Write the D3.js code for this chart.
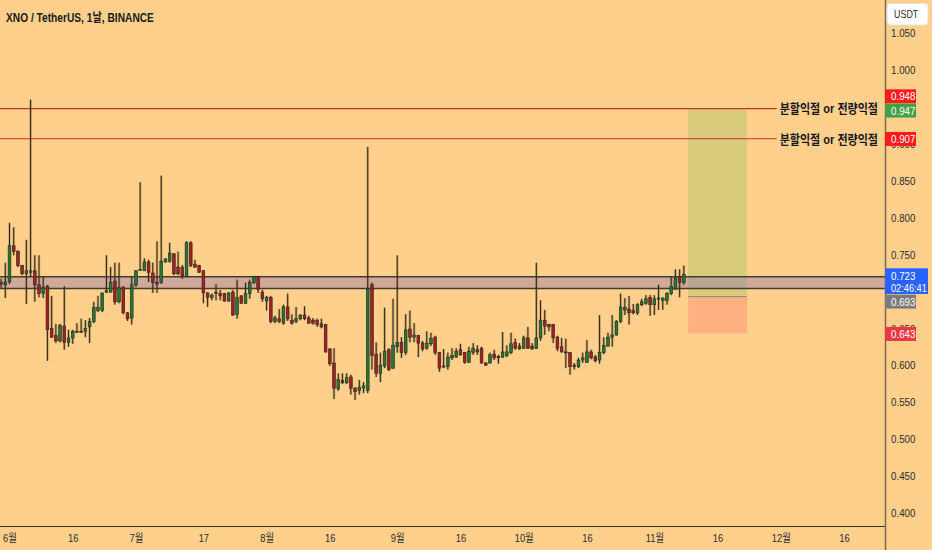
<!DOCTYPE html>
<html>
<head>
<meta charset="utf-8">
<title>XNO / TetherUS, 1날, BINANCE</title>
<style>
  html, body { margin: 0; padding: 0; background: #ffd08b; overflow: hidden; }
  svg { display: block; }
  text { font-family: "Liberation Sans", "Noto Sans CJK KR", sans-serif; }
</style>
</head>
<body>
<script src="https://cdn.jsdelivr.net/npm/d3@7"></script>
<script>

// daily candles, first one is 2022-05-30, one per day
var firstDay = "2022-05-30";

var opens = [
  .712,.709,.713,.762,.754,.735,.724,.726,.728,.709,
  .697,.707,.650,.640,.633,.653,.631,.637,.645,.646,
  .646,.652,.659,.674,.674,.699,.699,.714,.686,.706,
  .671,.664,.709,.729,.728,.740,.725,.712,.712,.740,
  .741,.751,.733,.733,.720,.766,.737,.735,.728,.698,
  .692,.699,.697,.697,.687,.699,.669,.694,.684,.697,
  .712,.720,.699,.687,.692,.659,.663,.657,.679,.661,
  .659,.663,.668,.664,.661,.661,.656,.655,.622,.603,
  .568,.579,.576,.584,.569,.566,.569,.566,.709,.615,
  .589,.599,.621,.596,.625,.631,.617,.649,.638,.640,
  .630,.623,.629,.638,.617,.598,.598,.610,.611,.621,
  .617,.604,.617,.621,.623,.603,.603,.615,.612,.611,
  .613,.617,.631,.626,.623,.637,.626,.623,.637,.661,
  .655,.655,.638,.625,.618,.617,.600,.598,.607,.604,
  .618,.611,.607,.617,.626,.638,.641,.659,.675,.676,
  .674,.671,.682,.684,.692,.682,.690,.688,.688,.697,
  .703,.720,.712
];
var highs = [
  .717,.739,.793,.787,.756,.736,.770,.960,.749,.749,
  .721,.709,.694,.656,.656,.707,.648,.648,.657,.663,
  .661,.664,.686,.694,.698,.749,.733,.739,.739,.707,
  .672,.720,.729,.848,.745,.743,.739,.768,.857,.745,
  .766,.752,.754,.736,.768,.768,.743,.736,.729,.699,
  .697,.710,.702,.698,.699,.702,.716,.695,.712,.716,
  .721,.721,.702,.694,.694,.667,.676,.682,.697,.669,
  .679,.669,.680,.667,.664,.663,.663,.656,.623,.623,
  .589,.589,.589,.587,.570,.580,.577,.896,.712,.631,
  .617,.678,.623,.690,.749,.638,.669,.674,.657,.641,
  .633,.646,.644,.640,.618,.622,.617,.623,.623,.629,
  .618,.625,.630,.627,.625,.604,.617,.621,.614,.645,
  .627,.644,.636,.630,.640,.652,.630,.739,.688,.675,
  .656,.656,.640,.637,.636,.618,.603,.610,.617,.634,
  .621,.614,.668,.638,.644,.668,.661,.697,.691,.694,
  .683,.684,.690,.695,.695,.695,.709,.692,.699,.720,
  .730,.730,.735
];
var lows = [
  .705,.691,.710,.749,.733,.722,.683,.720,.686,.692,
  .691,.606,.637,.630,.631,.621,.625,.629,.644,.644,
  .638,.630,.657,.672,.672,.698,.699,.682,.684,.669,
  .660,.655,.706,.728,.728,.713,.698,.698,.710,.739,
  .739,.722,.722,.717,.719,.733,.732,.725,.684,.679,
  .688,.688,.688,.686,.686,.667,.663,.683,.683,.690,
  .710,.698,.686,.674,.657,.657,.657,.655,.660,.655,
  .657,.661,.661,.656,.655,.652,.650,.617,.599,.554,
  .565,.575,.575,.560,.553,.560,.562,.562,.594,.584,
  .577,.596,.592,.595,.617,.610,.614,.631,.631,.611,
  .619,.621,.626,.614,.591,.596,.594,.607,.610,.613,
  .602,.603,.614,.614,.602,.599,.602,.607,.602,.610,
  .611,.615,.621,.621,.622,.622,.621,.622,.633,.641,
  .646,.630,.619,.617,.596,.587,.594,.596,.603,.603,
  .608,.604,.602,.615,.625,.625,.640,.657,.668,.655,
  .669,.668,.680,.682,.667,.668,.675,.675,.682,.695,
  .702,.692,.709
];
var closes = [
  .710,.713,.762,.754,.735,.724,.728,.728,.709,.697,
  .706,.648,.638,.633,.654,.631,.637,.646,.646,.645,
  .650,.659,.678,.678,.698,.701,.712,.686,.705,.671,
  .663,.709,.728,.730,.740,.726,.712,.710,.741,.744,
  .752,.724,.724,.721,.766,.735,.733,.726,.698,.692,
  .695,.698,.694,.687,.698,.668,.692,.684,.697,.712,
  .720,.703,.690,.692,.659,.664,.659,.679,.663,.657,
  .663,.668,.663,.657,.657,.655,.652,.618,.602,.569,
  .581,.576,.583,.569,.564,.570,.572,.703,.613,.589,
  .600,.619,.594,.627,.631,.617,.648,.638,.641,.630,
  .622,.630,.636,.617,.596,.599,.611,.613,.619,.614,
  .604,.619,.623,.618,.603,.600,.614,.610,.610,.618,
  .618,.629,.623,.622,.637,.623,.622,.637,.661,.653,
  .652,.637,.623,.618,.617,.598,.598,.607,.610,.618,
  .610,.606,.617,.627,.638,.641,.659,.679,.678,.671,
  .671,.682,.686,.690,.682,.690,.691,.691,.697,.707,
  .718,.712,.723
];

// 0.950 and 0.700 sit fully under price tags in the reference, so they are left out
var priceTicks = [0.40, 0.45, 0.50, 0.55, 0.60, 0.65, 0.75, 0.80, 0.85, 0.90, 1.00, 1.05];
var dateTicks = ["2022-06-01","2022-06-16","2022-07-01","2022-07-17","2022-08-01","2022-08-16","2022-09-01",
                 "2022-09-16","2022-10-01","2022-10-16","2022-11-01","2022-11-16","2022-12-01","2022-12-16"];
var dateTickLabels = ["6월","16","7월","17","8월","16","9월","16","10월","16","11월","16","12월","16"];

var zoneLow = 0.704, zoneHigh = 0.720;
var targetLines = [0.948, 0.907];
var targetText = "분할익절 or 전량익절";

var entryPrice = 0.693, targetPrice = 0.947, stopPrice = 0.643;
var positionFrom = "2022-11-09", positionTo = "2022-11-23";

var lastPrice = 0.723, countdown = "02:46:41";
var title = "XNO / TetherUS, 1날, BINANCE";

// ---------------------------------------------------------------
var W = 932, H = 550;
var plotRight = 885, plotBottom = 526;
var SX = 0.85; // glyphs in the reference are a bit narrow

var parse = d3.utcParse("%Y-%m-%d");

var x = d3.scaleUtc()
  .domain([parse("2022-06-01"), parse("2022-12-16")])
  .range([9.5, 844]);

var y = d3.scaleLinear()
  .domain([0.40, 1.05])
  .range([512.7, 33.3]);

var start = parse(firstDay);
var candles = opens.map(function(o, i){
  return {date: d3.utcDay.offset(start, i), open: o, high: highs[i], low: lows[i], close: closes[i]};
});

var barW = (x(d3.utcDay.offset(start, 1)) - x(start)) * 0.66;

var svg = d3.select("body").append("svg")
  .attr("width", W)
  .attr("height", H);

svg.append("rect").attr("width", W).attr("height", H).attr("fill", "#ffd08b");

var plot = svg.append("g");
plot.append("clipPath").attr("id", "clip")
  .append("rect").attr("width", plotRight).attr("height", plotBottom);
var chart = plot.append("g").attr("clip-path", "url(#clip)");

// long position box
var px0 = x(parse(positionFrom)), px1 = x(parse(positionTo));
chart.append("rect")
  .attr("x", px0).attr("width", px1 - px0)
  .attr("y", y(targetPrice)).attr("height", y(entryPrice) - y(targetPrice))
  .attr("fill", "#d8cb7c");
chart.append("rect")
  .attr("x", px0).attr("width", px1 - px0)
  .attr("y", y(entryPrice)).attr("height", y(stopPrice) - y(entryPrice))
  .attr("fill", "#fdb181");
chart.append("line")
  .attr("x1", px0).attr("x2", px1)
  .attr("y1", y(entryPrice)).attr("y2", y(entryPrice))
  .attr("stroke", "#8d8a80").attr("stroke-width", 1);

// support / resistance zone
chart.append("rect")
  .attr("x", 0).attr("width", plotRight)
  .attr("y", y(zoneHigh)).attr("height", y(zoneLow) - y(zoneHigh))
  .attr("fill", "rgb(140,110,180)").attr("fill-opacity", 0.4);
chart.selectAll("line.zone")
  .data([zoneHigh, zoneLow])
  .enter().append("line")
  .attr("class", "zone")
  .attr("x1", 0).attr("x2", plotRight)
  .attr("y1", function(d){ return y(d); })
  .attr("y2", function(d){ return y(d); })
  .attr("stroke", "#433c30").attr("stroke-width", 1.6);

// target lines with text
var tl = chart.selectAll("g.target")
  .data(targetLines)
  .enter().append("g")
  .attr("class", "target");

tl.append("text")
  .attr("transform", function(d){ return "translate(878," + (y(d) + 0.5) + ") scale(" + SX + ",1)"; })
  .attr("text-anchor", "end")
  .attr("dominant-baseline", "central")
  .attr("font-size", 13)
  .attr("font-weight", "bold")
  .attr("font-family", "'Noto Sans CJK KR', sans-serif")
  .attr("fill", "#131722")
  .text(targetText);

tl.append("line")
  .attr("x1", 0)
  .attr("x2", function(){
    var t = d3.select(this.parentNode).select("text").node();
    return 878 - t.getComputedTextLength() * SX - 3;
  })
  .attr("y1", function(d){ return y(d); })
  .attr("y2", function(d){ return y(d); })
  .attr("stroke", "#c3321f").attr("stroke-width", 1.2);

// candles
var cg = chart.append("g");
var up = "#1f7a36", down = "#a51f24";

cg.selectAll("line.halo")
  .data(candles)
  .enter().append("line")
  .attr("class", "halo")
  .attr("x1", function(d){ return x(d.date); })
  .attr("x2", function(d){ return x(d.date); })
  .attr("y1", function(d){ return y(d.high); })
  .attr("y2", function(d){ return y(d.low); })
  .attr("stroke", "rgba(110,85,40,0.35)")
  .attr("stroke-width", 2.6);

cg.selectAll("line.wick")
  .data(candles)
  .enter().append("line")
  .attr("class", "wick")
  .attr("x1", function(d){ return x(d.date); })
  .attr("x2", function(d){ return x(d.date); })
  .attr("y1", function(d){ return y(d.high); })
  .attr("y2", function(d){ return y(d.low); })
  .attr("stroke", "#2a261e")
  .attr("stroke-width", 1);

cg.selectAll("rect.body")
  .data(candles)
  .enter().append("rect")
  .attr("class", "body")
  .attr("x", function(d){ return x(d.date) - barW / 2; })
  .attr("width", barW)
  .attr("y", function(d){ return y(Math.max(d.open, d.close)); })
  .attr("height", function(d){ return Math.max(1, Math.abs(y(d.open) - y(d.close))); })
  .attr("fill", function(d){ return d.close >= d.open ? up : down; })
  .attr("stroke", "#2a261e")
  .attr("stroke-width", 0.6);

// axes
svg.append("line")
  .attr("x1", 0).attr("x2", plotRight)
  .attr("y1", plotBottom + 0.5).attr("y2", plotBottom + 0.5)
  .attr("stroke", "#2e2a24").attr("stroke-width", 1.2);
svg.append("line")
  .attr("x1", plotRight + 0.5).attr("x2", plotRight + 0.5)
  .attr("y1", 0).attr("y2", H)
  .attr("stroke", "#7a6a4e").attr("stroke-width", 1.5);

var gy = svg.append("g")
  .attr("transform", "translate(891,0)")
  .call(d3.axisRight(y).tickValues(priceTicks).tickFormat(d3.format(".3f")).tickSize(0).tickPadding(0))
  .attr("font-size", null).attr("font-family", null);
gy.select(".domain").remove();
gy.selectAll("text")
  .attr("x", 0)
  .attr("transform", "scale(" + SX + ",1)")
  .attr("font-size", 11.5)
  .attr("fill", "#2b2b2b");

var gx = svg.append("g")
  .attr("transform", "translate(0," + plotBottom + ")")
  .call(d3.axisBottom(x)
    .tickValues(dateTicks.map(parse))
    .tickFormat(function(d, i){ return dateTickLabels[i]; })
    .tickSize(0).tickPadding(8))
  .attr("font-size", null).attr("font-family", null);
gx.select(".domain").remove();
gx.selectAll("text")
  .attr("transform", "scale(" + SX + ",1)")
  .attr("font-size", 11)
  .attr("fill", "#2b2b2b");

// price tags on the right scale
var tags = [
  {v: 0.948, c: "#ff1b1b", dy: -12.2},
  {v: targetPrice, c: "#43a047", dy: 1.3},
  {v: 0.907, c: "#ff1b1b", dy: 0.2},
  {v: entryPrice, c: "#7b7b7b", dy: 5},
  {v: stopPrice, c: "#ec3842", dy: 0.5}
];
var tg = svg.selectAll("g.tag")
  .data(tags)
  .enter().append("g")
  .attr("class", "tag")
  .attr("transform", function(d){ return "translate(" + plotRight + "," + (y(d.v) + d.dy) + ")"; });
tg.append("rect")
  .attr("x", 0).attr("y", -7).attr("width", 31).attr("height", 14)
  .attr("fill", function(d){ return d.c; });
tg.append("text")
  .attr("transform", "translate(6,0) scale(" + SX + ",1)")
  .attr("dy", "0.35em")
  .attr("font-size", 11.5)
  .attr("fill", "#fff")
  .text(function(d){ return d3.format(".3f")(d.v); });

var lp = svg.append("g")
  .attr("transform", "translate(" + plotRight + "," + y(lastPrice) + ")");
lp.append("rect")
  .attr("x", 0).attr("y", -6.2).attr("width", 43).attr("height", 25.7)
  .attr("fill", "#2962ff");
lp.append("text")
  .attr("transform", "translate(6,1.5) scale(" + SX + ",1)")
  .attr("dy", "0.35em").attr("font-size", 11.5).attr("fill", "#fff")
  .text(d3.format(".3f")(lastPrice));
lp.append("text")
  .attr("transform", "translate(6,13) scale(0.8,1)")
  .attr("dy", "0.35em").attr("font-size", 11.5).attr("fill", "#fff")
  .text(countdown);

// currency box
var cur = svg.append("g").attr("transform", "translate(887,3.5)");
cur.append("rect")
  .attr("width", 41).attr("height", 21.5).attr("rx", 3)
  .attr("fill", "#fff").attr("stroke", "#e6e0d6");
cur.append("text")
  .attr("transform", "translate(7,11) scale(" + SX + ",1)")
  .attr("dy", "0.35em").attr("font-size", 10.5).attr("fill", "#2b2b2b")
  .text("USDT");

// title
svg.append("text")
  .attr("transform", "translate(6,22) scale(" + SX + ",1)")
  .attr("font-size", 12)
  .attr("font-weight", "bold")
  .attr("fill", "#1a1a1a")
  .text(title);

</script>
</body>
</html>
